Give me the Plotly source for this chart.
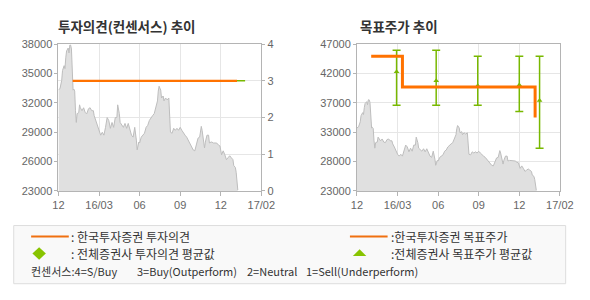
import plotly.graph_objects as go

W, H = 590, 300

# ---- data ----
x_tick_vals = [0, 50, 100, 150, 200, 250]
x_tick_text = ["12", "16/03", "06", "09", "12", "17/02"]

day_idx = [0, 2, 4, 5, 7, 8, 9, 10, 12, 13, 14, 15, 16, 17, 18, 19, 20, 21, 22, 23,
           25, 26, 27, 29, 31, 33, 35, 37, 39, 41, 43, 44, 46, 48, 50, 52, 54, 56, 58, 60,
           62, 64, 66, 68, 70, 72, 73, 75, 76, 78, 80, 82, 84, 86, 88, 90, 92, 94, 96, 97,
           99, 100, 102, 104, 106, 108, 110, 112, 114, 116, 118, 120, 122, 123, 124, 126, 127, 129, 130, 132,
           134, 136, 137, 138, 140, 142, 144, 146, 148, 150, 152, 154, 156, 158, 160, 162, 164, 166, 168, 170,
           172, 174, 175, 176, 177, 179, 180, 181, 183, 185, 186, 188, 189, 191, 193, 195, 197, 199, 201, 203,
           205, 207, 209, 211, 213, 215, 216, 217, 218, 219, 220, 221]
price = [33300, 33500, 34300, 35300, 35800, 35500, 36600, 37300, 37600, 37100, 37900, 37900, 37500, 34200, 33300, 33400, 33200, 31200, 30000, 30900,
         31000, 31800, 31500, 31200, 31500, 31000, 30900, 31400, 31500, 31200, 31200, 30700, 30200, 29500, 29000, 28700, 29000, 28700, 29500, 30500,
         30200, 29400, 30000, 29500, 30500, 30500, 31800, 30900, 30000, 29700, 29500, 29900, 29400, 29900, 29200, 28700, 28500, 29500, 28200, 27200,
         28000, 27900, 28500, 28700, 28900, 29500, 29700, 30200, 30500, 30700, 30900, 31500, 32200, 33200, 33700, 33300, 32500, 32700, 32200, 32500,
         32300, 32500, 30500, 29000, 28900, 29400, 29200, 29400, 29200, 29500, 29200, 28900, 28700, 28500, 28200, 27900, 27600, 27200, 27100, 27900,
         28400, 28500, 29500, 29600, 29200, 27600, 27400, 28000, 28700, 28700, 27900, 28000, 28000, 27900, 27900, 27900, 27700, 27600, 26700, 27100,
         26700, 26200, 26400, 26600, 26400, 26200, 25600, 25400, 25400, 24900, 24100, 23100]
assert len(day_idx) == len(price)

opinion_x = [17.5, 220]
opinion_y = [3, 3]
consensus_op_x = [220, 230]
consensus_op_y = [3, 3]

target_x = [17.5, 56, 219.5]
target_y = [45000, 40000, 35000]

cons_x = [48.8, 97.6, 148.8, 200, 225]
cons_mean = [42500, 41000, 40200, 40300, 37800]
cons_high = [46000, 46000, 45000, 45000, 45000]
cons_low = [37000, 37000, 37000, 36000, 30000]

left_price_ticks = [23000, 26000, 29000, 32000, 35000, 38000]
left_price_text = ["23000", "26000", "29000", "32000", "35000", "38000"]
opinion_ticks = [0, 1, 2, 3, 4]
right_price_ticks = [23000, 27800, 32600, 37400, 42200, 47000]
right_price_text = ["23000", "28000", "33000", "37000", "42000", "47000"]

# ---- styles ----
ORANGE = "#ff7200"
GREEN = "#78b800"
AREA_FILL = "#e0e0e0"
AREA_LINE = "#bdbdbd"
GRID = "#e6e6e6"
AXLINE = "#b4b4b4"
TICKFONT = dict(family="Liberation Sans, Arial, sans-serif", size=11, color="#666666")
KFONT = "Noto Sans CJK KR, sans-serif"


def px(x):
    return x / W


def py(y):
    return 1 - y / H


fig = go.Figure()

# left chart
fig.add_trace(go.Scatter(x=day_idx, y=price, mode="lines", fill="tozeroy",
                         fillcolor=AREA_FILL, line=dict(color=AREA_LINE, width=1),
                         xaxis="x", yaxis="y", hoverinfo="skip", showlegend=False))
fig.add_trace(go.Scatter(x=opinion_x, y=opinion_y, mode="lines",
                         line=dict(color=ORANGE, width=2.2),
                         xaxis="x", yaxis="y2", showlegend=False))
fig.add_trace(go.Scatter(x=consensus_op_x, y=consensus_op_y, mode="lines",
                         line=dict(color=GREEN, width=1.5),
                         xaxis="x", yaxis="y2", showlegend=False))

# right chart
fig.add_trace(go.Scatter(x=day_idx, y=price, mode="lines", fill="tozeroy",
                         fillcolor=AREA_FILL, line=dict(color=AREA_LINE, width=1),
                         xaxis="x2", yaxis="y3", hoverinfo="skip", showlegend=False))
fig.add_trace(go.Scatter(
    x=cons_x, y=cons_mean, mode="markers",
    marker=dict(symbol="triangle-up", size=5, color=GREEN),
    error_y=dict(type="data", symmetric=False,
                 array=[h - m for h, m in zip(cons_high, cons_mean)],
                 arrayminus=[m - l for m, l in zip(cons_mean, cons_low)],
                 color=GREEN, thickness=1.5, width=4),
    xaxis="x2", yaxis="y3", showlegend=False))
fig.add_trace(go.Scatter(x=target_x, y=target_y, mode="lines",
                         line=dict(color=ORANGE, width=3, shape="hv"),
                         xaxis="x2", yaxis="y3", showlegend=False))

L_DOM = [px(54.3), px(264.3)]
R_DOM = [px(363.3), px(573.3)]
Y_DOM = [py(192.7), py(39.7)]

xcommon = dict(range=[0, 250], tickvals=x_tick_vals, ticktext=x_tick_text,
               showgrid=True, gridcolor=GRID, gridwidth=1, zeroline=False,
               showline=True, linecolor=AXLINE, linewidth=1, mirror=True,
               ticks="outside", ticklen=4, tickcolor=AXLINE, tickfont=TICKFONT,
               fixedrange=True)

fig.update_layout(
    width=W, height=H,
    margin=dict(l=0, r=0, t=0, b=0),
    paper_bgcolor="white", plot_bgcolor="white",
    showlegend=False,
    xaxis=dict(domain=L_DOM, anchor="y", **xcommon),
    yaxis=dict(domain=Y_DOM, anchor="x", range=[23000, 38000], tickvals=left_price_ticks,
               ticktext=left_price_text,
               showgrid=False, zeroline=False, showline=True, linecolor=AXLINE,
               mirror=True, ticks="outside", ticklen=3, tickcolor=AXLINE,
               tickfont=TICKFONT),
    yaxis2=dict(overlaying="y", side="right", anchor="x", range=[0, 4], tickvals=opinion_ticks,
                showgrid=True, gridcolor=GRID, zeroline=False, showline=False,
                ticks="outside", ticklen=3, tickcolor=AXLINE, tickfont=TICKFONT),
    xaxis2=dict(domain=R_DOM, anchor="y3", **xcommon),
    yaxis3=dict(domain=Y_DOM, anchor="x2", range=[23000, 47000], tickvals=right_price_ticks,
                ticktext=right_price_text, showgrid=True, gridcolor=GRID, zeroline=False,
                showline=True, linecolor=AXLINE, mirror=True, ticks="outside", ticklen=3,
                tickcolor=AXLINE, tickfont=TICKFONT),
)

ann = []
ann.append(dict(text="<b>투자의견(컨센서스) 추이</b>", x=px(52), y=py(21), xref="paper", yref="paper",
                xanchor="left", yanchor="middle", showarrow=False,
                font=dict(family=KFONT, size=13.5, color="#333333")))
ann.append(dict(text="<b>목표주가 추이</b>", x=px(364), y=py(21), xref="paper", yref="paper",
                xanchor="left", yanchor="middle", showarrow=False,
                font=dict(family=KFONT, size=13.5, color="#333333")))

LFONT = dict(family=KFONT, size=12, color="#333333")
SFONT = dict(family=KFONT, size=11, color="#333333")
legend_texts = [
    (": 한국투자증권 투자의견", 66, 240, LFONT),
    (": 전체증권사 투자의견 평균값", 66, 257.7, LFONT),
    (":한국투자증권 목표주가", 397, 240, LFONT),
    (":전체증권사 목표주가 평균값", 397, 257.7, LFONT),
    ("컨센서스:4=S/Buy", 25, 276, SFONT),
    ("3=Buy(Outperform)", 135, 276, SFONT),
    ("2=Neutral", 248, 276, SFONT),
    ("1=Sell(Underperform)", 310, 276, SFONT),
]
for t, x, y, f in legend_texts:
    ann.append(dict(text=t, x=px(x), y=py(y), xref="paper", yref="paper",
                    xanchor="left", yanchor="middle", showarrow=False, font=f,
                    borderpad=0))
fig.update_layout(annotations=ann)

shapes = []
shapes.append(dict(type="rect", xref="paper", yref="paper", x0=px(8), x1=px(579.3),
                   y0=py(289.3), y1=py(228.7), fillcolor="#f9f9f9",
                   line=dict(color="#dddddd", width=1), layer="below"))
shapes.append(dict(type="line", xref="paper", yref="paper", x0=px(26), x1=px(65),
                   y0=py(240), y1=py(240), line=dict(color="#f07010", width=2)))
shapes.append(dict(type="line", xref="paper", yref="paper", x0=px(356), x1=px(395),
                   y0=py(240), y1=py(240), line=dict(color="#f07010", width=2)))
dcx, dcy = 34.3, 257.7
shapes.append(dict(type="path", xref="paper", yref="paper",
                   path=f"M {px(dcx-7)} {py(dcy)} L {px(dcx)} {py(dcy-6.5)} L {px(dcx+7)} {py(dcy)} L {px(dcx)} {py(dcy+6.5)} Z",
                   fillcolor="#88c400", line=dict(width=0)))
shapes.append(dict(type="path", xref="paper", yref="paper",
                   path=f"M {px(359)} {py(260.5)} L {px(366)} {py(253.5)} L {px(373)} {py(260.5)} Z",
                   fillcolor="#88c400", line=dict(width=0)))
fig.update_layout(shapes=shapes)

fig.write_html("out.html")
